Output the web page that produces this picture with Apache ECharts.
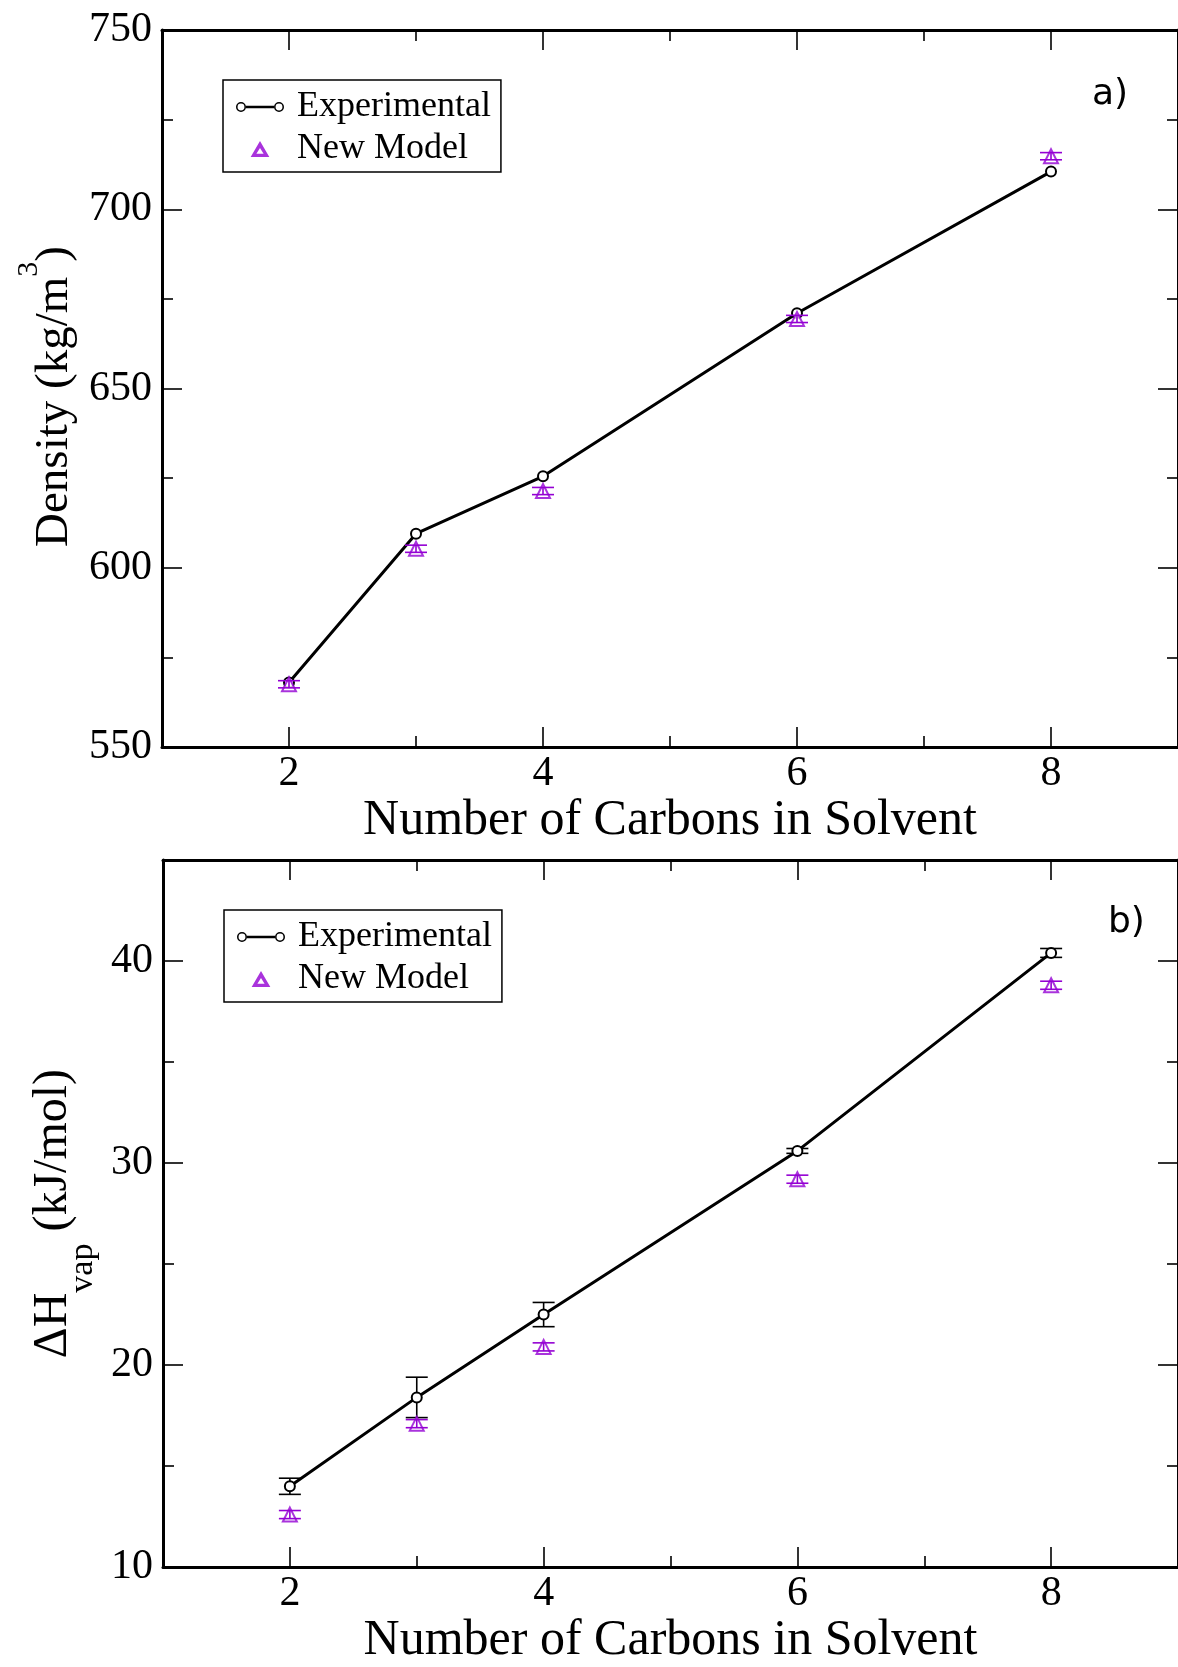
<!DOCTYPE html>
<html>
<head>
<meta charset="utf-8">
<script src="https://cdn.jsdelivr.net/npm/echarts@6/dist/echarts.min.js"></script>
<style>
html,body{margin:0;padding:0;background:#fff;}
#chart{width:1178px;height:1667px;}
</style>
</head>
<body>
<div id="chart"></div>
<script>
// ---- data ----
const carbons = [2, 3, 4, 6, 8];
const densityExp = [568.0, 609.5, 625.5, 671.0, 710.5];
const densityModel = [567.5, 605.3, 621.4, 669.4, 714.8];
const densityModelErr = [1.0, 1.0, 1.0, 1.0, 1.0];
const hvapExp = [14.0, 18.4, 22.5, 30.6, 40.4];
const hvapExpErr = [0.4, 1.0, 0.6, 0.12, 0.22];
const hvapModel = [12.6, 17.1, 20.9, 29.2, 38.8];
const hvapModelErr = [0.2, 0.2, 0.2, 0.2, 0.2];
const xMajorTicks = [2, 4, 6, 8];
const xMinorTicks = [3, 5, 7];
const densityMajorTicks = [550, 600, 650, 700, 750];
const densityMinorTicks = [575, 625, 675, 725];
const hvapMajorTicks = [10, 20, 30, 40];
const hvapMinorTicks = [15, 25, 35];

const SERIF = 'Liberation Serif';
const PURPLE = '#9400d3';

function pairs(xs, ys) { return xs.map((x, i) => [x, ys[i]]); }
function errData(xs, ys, es) { return xs.map((x, i) => [x, ys[i] - es[i], ys[i] + es[i]]); }

function errRender(params, api) {
  const x = api.value(0);
  const lo = api.coord([x, api.value(1)]);
  const hi = api.coord([x, api.value(2)]);
  const w = 11;
  const st = { stroke: api.visual('color'), lineWidth: 1.6 };
  return {
    type: 'group',
    children: [
      { type: 'line', shape: { x1: lo[0], y1: lo[1], x2: hi[0], y2: hi[1] }, style: st },
      { type: 'line', shape: { x1: lo[0] - w, y1: lo[1], x2: lo[0] + w, y2: lo[1] }, style: st },
      { type: 'line', shape: { x1: hi[0] - w, y1: hi[1], x2: hi[0] + w, y2: hi[1] }, style: st }
    ]
  };
}

function xAxes(gi, withName) {
  const base = { gridIndex: gi, type: 'value', min: 1, max: 9, splitLine: { show: false } };
  return [
    Object.assign({}, base, {
      position: 'bottom',
      axisLine: { show: true, lineStyle: { color: '#000', width: 3 } },
      axisTick: { show: true, inside: true, length: 20, customValues: xMajorTicks, lineStyle: { color: '#000', width: 1.6 } },
      axisLabel: { show: true, customValues: xMajorTicks, margin: 6, fontFamily: SERIF, fontSize: 42, color: '#000' },
      name: withName, nameLocation: 'middle', nameGap: 44,
      nameTextStyle: { fontFamily: SERIF, fontSize: 50, color: '#000' }
    }),
    Object.assign({}, base, {
      position: 'bottom',
      axisLine: { show: false },
      axisTick: { show: true, inside: true, length: 11, customValues: xMinorTicks, lineStyle: { color: '#000', width: 1.6 } },
      axisLabel: { show: false }
    }),
    Object.assign({}, base, {
      position: 'top',
      axisLine: { show: true, lineStyle: { color: '#000', width: 3 } },
      axisTick: { show: true, inside: true, length: 20, customValues: xMajorTicks, lineStyle: { color: '#000', width: 1.6 } },
      axisLabel: { show: false }
    }),
    Object.assign({}, base, {
      position: 'top',
      axisLine: { show: false },
      axisTick: { show: true, inside: true, length: 11, customValues: xMinorTicks, lineStyle: { color: '#000', width: 1.6 } },
      axisLabel: { show: false }
    })
  ];
}

function yAxes(gi, mn, mx, major, minor, name, nameStyle, nameGap) {
  const base = { gridIndex: gi, type: 'value', min: mn, max: mx, splitLine: { show: false } };
  return [
    Object.assign({}, base, {
      position: 'left',
      axisLine: { show: true, lineStyle: { color: '#000', width: 3 } },
      axisTick: { show: true, inside: true, length: 20, customValues: major, lineStyle: { color: '#000', width: 1.6 } },
      axisLabel: { show: true, customValues: major, margin: 10, fontFamily: SERIF, fontSize: 42, color: '#000' },
      name: name, nameLocation: 'middle', nameGap: nameGap,
      nameTextStyle: nameStyle
    }),
    Object.assign({}, base, {
      position: 'left',
      axisLine: { show: false },
      axisTick: { show: true, inside: true, length: 11, customValues: minor, lineStyle: { color: '#000', width: 1.6 } },
      axisLabel: { show: false }
    }),
    Object.assign({}, base, {
      position: 'right',
      axisLine: { show: true, lineStyle: { color: '#000', width: 3 } },
      axisTick: { show: true, inside: true, length: 20, customValues: major, lineStyle: { color: '#000', width: 1.6 } },
      axisLabel: { show: false }
    }),
    Object.assign({}, base, {
      position: 'right',
      axisLine: { show: false },
      axisTick: { show: true, inside: true, length: 11, customValues: minor, lineStyle: { color: '#000', width: 1.6 } },
      axisLabel: { show: false }
    })
  ];
}

const expIcon = 'path://M0,5.2 A5.2,5.2 0 1 1 10.4,5.2 A5.2,5.2 0 1 1 0,5.2 Z M1.6,5.2 A3.6,3.6 0 1 0 8.8,5.2 A3.6,3.6 0 1 0 1.6,5.2 Z M10.4,4 L39.6,4 L39.6,6.4 L10.4,6.4 Z M39.6,5.2 A5.2,5.2 0 1 1 50,5.2 A5.2,5.2 0 1 1 39.6,5.2 Z M41.2,5.2 A3.6,3.6 0 1 0 48.4,5.2 A3.6,3.6 0 1 0 41.2,5.2 Z';
const triIcon = 'path://M7,0 L14,12 L0,12 Z M7,5.2 L4.3,9.6 L9.7,9.6 Z';

function legend(left, top) {
  return {
    left: left, top: top, orient: 'vertical',
    backgroundColor: '#fff', borderColor: '#000', borderWidth: 1.5, borderRadius: 0,
    padding: [9, 10, 5, 13], itemGap: 6, itemWidth: 48, itemHeight: 16,
    symbolKeepAspect: true,
    textStyle: { fontFamily: SERIF, fontSize: 36, lineHeight: 36, color: '#000', padding: [0, 0, 0, 8] },
    selectedMode: false,
    data: [
      { name: 'Experimental', icon: expIcon, itemStyle: { color: '#000', borderWidth: 0 } },
      { name: 'New Model', icon: triIcon, itemStyle: { color: PURPLE, borderWidth: 0 } }
    ]
  };
}

const option = {
  animation: false,
  backgroundColor: '#fff',
  grid: [
    { left: 162, top: 30, width: 1024, height: 717 },
    { left: 163, top: 860, width: 1024, height: 716 }
  ],
  legend: [legend(223, 80), legend(224, 910)],
  xAxis: [].concat(xAxes(0, 'Number of Carbons in Solvent'), xAxes(1, 'Number of Carbons in Solvent')),
  yAxis: [].concat(
    yAxes(0, 550, 750, densityMajorTicks, densityMinorTicks, 'Density (kg/m{sup|3})',
      { fontFamily: SERIF, fontSize: 47, color: '#000', padding: [0, 16, 0, 0],
        rich: { sup: { fontFamily: SERIF, fontSize: 30, color: '#000', padding: [0, 0, 50, 0] } } }, 65),
    yAxes(1, 10, 45, hvapMajorTicks, hvapMinorTicks, 'ΔH{sub|vap} (kJ/mol)',
      { fontFamily: SERIF, fontSize: 48, color: '#000',
        rich: { sub: { fontFamily: SERIF, fontSize: 34, color: '#000', padding: [60, 0, 0, 0] } } }, 51)
  ),
  graphic: [
    { type: 'text', left: 1092, top: 77, style: { text: 'a)', fontFamily: 'DejaVu Sans', fontSize: 36, fill: '#000' } },
    { type: 'text', left: 1108, top: 905, style: { text: 'b)', fontFamily: 'DejaVu Sans', fontSize: 36, fill: '#000' } }
  ],
  series: [
    {
      name: 'Experimental', type: 'line', xAxisIndex: 0, yAxisIndex: 0,
      data: pairs(carbons, densityExp),
      symbol: 'emptyCircle', symbolSize: 10, showAllSymbol: true,
      lineStyle: { color: '#000', width: 3 },
      itemStyle: { color: '#000', borderWidth: 1.8 }, z: 3
    },
    {
      name: 'New Model', type: 'scatter', xAxisIndex: 0, yAxisIndex: 0,
      data: pairs(carbons, densityModel),
      symbol: 'emptyTriangle', symbolSize: 14,
      itemStyle: { color: PURPLE, borderWidth: 2.8 }, z: 4
    },
    {
      name: 'New Model', type: 'custom', xAxisIndex: 0, yAxisIndex: 0,
      data: errData(carbons, densityModel, densityModelErr),
      renderItem: errRender, itemStyle: { color: PURPLE }, z: 5, silent: true
    },
    {
      name: 'Experimental', type: 'line', xAxisIndex: 4, yAxisIndex: 4,
      data: pairs(carbons, hvapExp),
      symbol: 'emptyCircle', symbolSize: 10, showAllSymbol: true,
      lineStyle: { color: '#000', width: 3 },
      itemStyle: { color: '#000', borderWidth: 1.8 }, z: 3
    },
    {
      name: 'Experimental', type: 'custom', xAxisIndex: 4, yAxisIndex: 4,
      data: errData(carbons, hvapExp, hvapExpErr),
      renderItem: errRender, itemStyle: { color: '#000' }, z: 3, silent: true
    },
    {
      name: 'New Model', type: 'scatter', xAxisIndex: 4, yAxisIndex: 4,
      data: pairs(carbons, hvapModel),
      symbol: 'emptyTriangle', symbolSize: 14,
      itemStyle: { color: PURPLE, borderWidth: 2.8 }, z: 4
    },
    {
      name: 'New Model', type: 'custom', xAxisIndex: 4, yAxisIndex: 4,
      data: errData(carbons, hvapModel, hvapModelErr),
      renderItem: errRender, itemStyle: { color: PURPLE }, z: 5, silent: true
    }
  ]
};

const chart = echarts.init(document.getElementById('chart'), null, { renderer: 'canvas' });
chart.setOption(option);
</script>
</body>
</html>
